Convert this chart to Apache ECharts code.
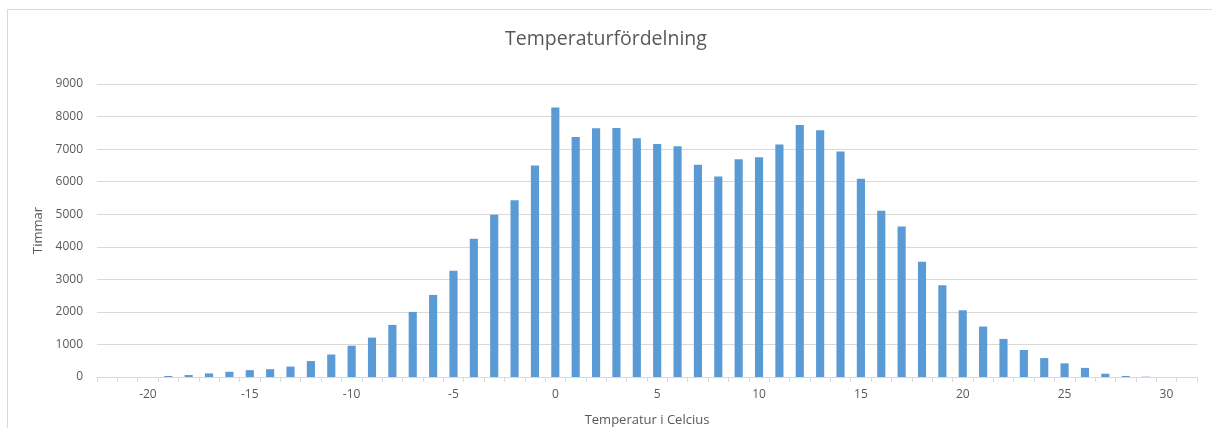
<!DOCTYPE html>
<html><head><meta charset="utf-8">
<script src="https://cdn.jsdelivr.net/npm/echarts@6/dist/echarts.min.js"></script>
<style>
html,body{margin:0;padding:0;background:#fff;}
#frame{position:absolute;left:7px;top:9px;width:1300px;height:500px;border-left:1px solid #d9d9d9;border-top:1px solid #d9d9d9;}
#c{position:absolute;left:0;top:0;width:1212px;height:428px;}
</style></head>
<body>
<div id="frame"></div>
<div id="c"></div>
<script>
const categories = [-22,-21,-20,-19,-18,-17,-16,-15,-14,-13,-12,-11,-10,-9,-8,-7,-6,-5,-4,-3,-2,-1,0,1,2,3,4,5,6,7,8,9,10,11,12,13,14,15,16,17,18,19,20,21,22,23,24,25,26,27,28,29,30,31];
const hours = [0,0,0,30,60,110,160,210,240,320,490,690,960,1210,1600,2000,2520,3260,4250,4980,5430,6500,8280,7370,7640,7650,7330,7160,7090,6520,6160,6690,6750,7140,7740,7580,6930,6090,5110,4620,3540,2820,2050,1550,1170,830,580,420,280,100,30,10,0,0];
const yTicks = [0,1000,2000,3000,4000,5000,6000,7000,8000,9000];
const title = 'Temperaturfördelning';
const xName = 'Temperatur i Celcius';
const yName = 'Timmar';

const chart = echarts.init(document.getElementById('c'));
const font = 'Open Sans';
chart.setOption({
  animation:false,
  title:{text:title,left:'center',top:24,textStyle:{fontFamily:font,fontSize:19.5,fontWeight:'normal',color:'#595959'}},
  grid:{left:97,right:15,top:84,bottom:51,outerBoundsMode:'none',containLabel:false},
  xAxis:{type:'category',data:categories.map(String),boundaryGap:true,
    name:xName,nameLocation:'middle',nameGap:37,
    nameTextStyle:{fontFamily:font,fontSize:13,color:'#595959'},
    axisLine:{lineStyle:{color:'#d9d9d9'}},
    axisTick:{show:true,interval:0,length:5,lineStyle:{color:'#d9d9d9'}},
    axisLabel:{interval:function(i,v){return Number(v)%5===0;},fontFamily:font,fontSize:12,color:'#595959',margin:12}},
  yAxis:{type:'value',min:yTicks[0],max:yTicks[yTicks.length-1],interval:1000,
    name:yName,nameLocation:'middle',nameGap:52,
    nameTextStyle:{fontFamily:font,fontSize:13,color:'#595959'},
    axisLine:{show:false},axisTick:{show:false},
    axisLabel:{fontFamily:font,fontSize:12,color:'#595959',margin:14,formatter:function(v){return String(v);}},
    splitLine:{lineStyle:{color:'#d9d9d9'}}},
  series:[{type:'bar',data:hours,barWidth:'40%',itemStyle:{color:'#5b9bd5'}}]
});
</script>
</body></html>
